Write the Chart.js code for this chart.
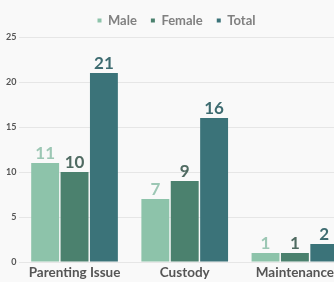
<!DOCTYPE html>
<html><head><meta charset="utf-8">
<script src="https://cdn.jsdelivr.net/npm/chart.js@4"></script>
<style>
html,body{margin:0;padding:0;background:#f9f9f9;overflow:hidden;}
#wrap{width:350px;height:282px;position:relative;}
</style></head>
<body><div id="wrap"><canvas id="c"></canvas></div>
<script>
const categories = ["Parenting Issue", "Custody", "Maintenance"];
const maleValues = [11, 7, 1];
const femaleValues = [10, 9, 1];
const totalValues = [21, 16, 2];
const seriesNames = ["Male", "Female", "Total"];
const yTicks = [0, 5, 10, 15, 20, 25];

const barColors = ["#8dc3aa", "#4b816e", "#3b7379"];
const labelColors = ["#9cc7b4", "#4f6a61", "#3d6b70"];

const labelPlugin = {
  id: "barLabels",
  afterDatasetsDraw(chart) {
    const ctx = chart.ctx;
    ctx.save();
    ctx.font = "bold 17px Lato";
    ctx.textAlign = "center";
    ctx.textBaseline = "bottom";
    chart.data.datasets.forEach((ds, i) => {
      const meta = chart.getDatasetMeta(i);
      meta.data.forEach((bar, j) => {
        ctx.fillStyle = labelColors[i];
        ctx.fillText(String(ds.data[j]), bar.x, bar.y - 1);
      });
    });
    ctx.restore();
  }
};

new Chart(document.getElementById("c"), {
  type: "bar",
  data: {
    labels: categories,
    datasets: [maleValues, femaleValues, totalValues].map((d, i) => ({
      label: seriesNames[i],
      data: d,
      backgroundColor: barColors[i],
      borderWidth: 0,
      barPercentage: 0.95,
      categoryPercentage: 0.8
    }))
  },
  options: {
    responsive: true,
    maintainAspectRatio: false,
    animation: false,
    layout: { padding: { top: 0, left: 3, right: 0, bottom: 0 } },
    plugins: {
      legend: {
        position: "top",
        labels: {
          usePointStyle: true,
          pointStyle: "rect",
          boxWidth: 4,
          boxHeight: 4,
          padding: 14,
          color: "#808080",
          font: { family: "Lato", weight: "bold", size: 13 }
        }
      },
      tooltip: { enabled: false }
    },
    scales: {
      x: {
        grid: { display: false, drawTicks: false },
        border: { display: false },
        afterFit(axis) { axis.height = 20; },
        ticks: { color: "#555", font: { family: "Lato", weight: "bold", size: 13.5 }, padding: 3, maxRotation: 0 }
      },
      y: {
        min: 0, max: 25,
        afterBuildTicks(axis) { axis.ticks = yTicks.map(v => ({ value: v })); },
        grid: { color: "#e6e6e6", drawTicks: false },
        border: { display: false },
        ticks: { color: "#555", font: { family: "Lato", weight: "bold", size: 9 }, padding: 3 }
      }
    }
  },
  plugins: [labelPlugin]
});
</script></body></html>
